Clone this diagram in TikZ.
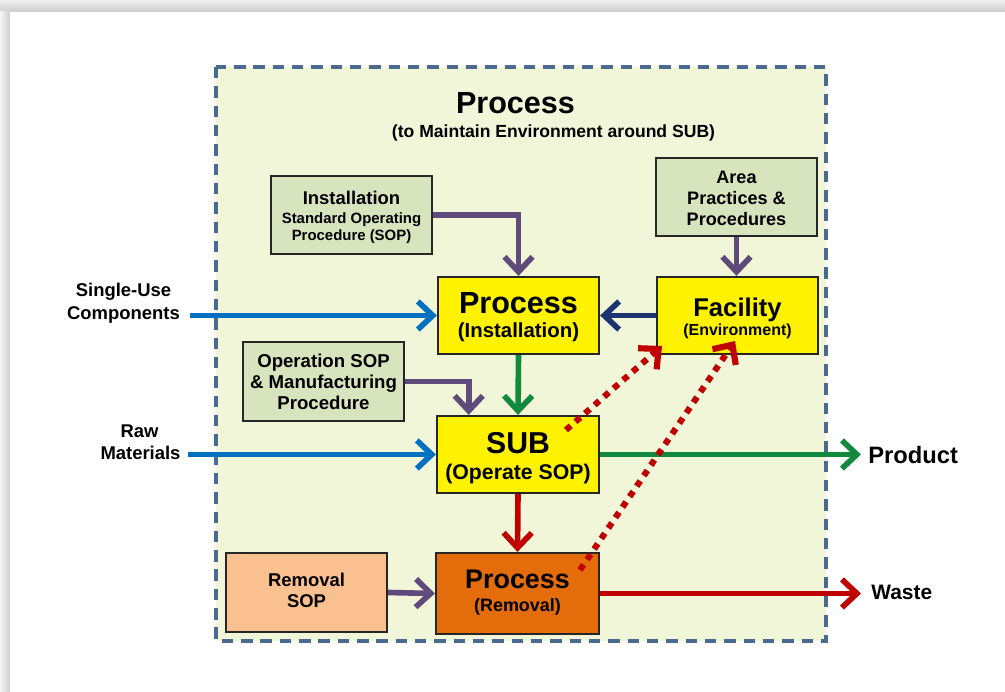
\documentclass[tikz,border=0pt]{standalone}
\usepackage{fontspec}
\setmainfont{Liberation Sans}
\usetikzlibrary{arrows.meta,calc}

\definecolor{panel}{HTML}{F2F6D8}
\definecolor{frameblue}{HTML}{4A6A90}
\definecolor{sopgreen}{HTML}{D7E4BD}
\definecolor{peach}{HTML}{FAC090}
\definecolor{orangebox}{HTML}{E46C0A}
\definecolor{arrpurple}{HTML}{604A7B}
\definecolor{arrblue}{HTML}{0070C0}
\definecolor{arrnavy}{HTML}{1B3470}
\definecolor{arrgreen}{HTML}{118A3E}
\definecolor{arrred}{HTML}{C00000}
\definecolor{boxline}{HTML}{262626}

\newcommand{\setfs}[1]{\fontsize{#1pt}{#1pt}\selectfont\bfseries}

\tikzset{
  box/.style={draw=boxline, line width=1.3pt, inner sep=0pt, minimum width=3.22cm},
  sopbox/.style={box, fill=sopgreen, minimum height=1.56cm},
  mainbox/.style={box, fill=yellow, minimum height=1.54cm},
  txt/.style={anchor=base, inner sep=0pt},
  flow/.style={line width=3.2pt, -{Straight Barb[length=8.5pt,width=16pt]}},
  dotflow/.style={flow, draw=arrred, line width=3.5pt, dash pattern=on 3.6pt off 3.6pt},
}

\begin{document}
\begin{tikzpicture}[x=0.02cm, y=-0.02cm]
  \useasboundingbox (0,0) rectangle (1005,692);
  \fill[white] (0,0) rectangle (1005,692);

  % soft page shadow along the top and left edges
  \shade[top color=gray!12, bottom color=gray!40] (0,0) rectangle (1005,12);
  \shade[left color=gray!8, right color=gray!38] (0,12) rectangle (10,692);
  \fill[white] (10,12) rectangle (1005,692);

  % dashed process frame
  \draw[fill=panel, draw=frameblue, line width=2pt, dash pattern=on 6.5pt off 4.5pt]
    (216,67) rectangle (826,641);

  \node[txt] (title) at (515.5,114) {\setfs{17.4}Process};
  \node[txt] (subtitle) at (553.5,138) {\setfs{10}(to Maintain Environment around SUB)};

  % boxes
  \node[sopbox] (isop) at (351.5,215) {};
  \node[sopbox] (area) at (736.5,197) {};
  \node[sopbox, minimum height=1.58cm] (osop) at (323.5,381.5) {};
  \node[box, fill=peach, minimum height=1.58cm] (rsop) at (306.5,592.5) {};
  \node[mainbox] (proc) at (518.5,315.5) {};
  \node[mainbox] (fac) at (737.5,315.5) {};
  \node[mainbox, minimum width=3.24cm] (sub) at (518,454.5) {};
  \node[box, fill=orangebox, minimum width=3.26cm, minimum height=1.62cm] (rem) at (517.5,593.5) {};

  % box texts
  \node[txt] at (351.5,205) {\setfs{10.5}Installation};
  \node[txt] at (351.5,223.3) {\setfs{8.5}Standard Operating};
  \node[txt] at (351.5,240.5) {\setfs{8.5}Procedure (SOP)};

  \node[txt] at (736.5,183.3) {\setfs{10.3}Area};
  \node[txt] at (736.5,204.3) {\setfs{10.3}Practices \&};
  \node[txt] at (736.5,225.3) {\setfs{10.3}Procedures};

  \node[txt] at (323.5,368) {\setfs{10.6}Operation SOP};
  \node[txt] at (323.5,389) {\setfs{10.6}\& Manufacturing};
  \node[txt] at (323.5,410) {\setfs{10.6}Procedure};

  \node[txt] at (306.5,586.7) {\setfs{10.5}Removal};
  \node[txt] at (306.5,608) {\setfs{10.5}SOP};

  \node[txt] at (518.5,313.3) {\setfs{17.4}Process};
  \node[txt] at (518.5,338) {\setfs{11.6}(Installation)};

  \node[txt] at (737.5,316.7) {\setfs{14.6}Facility};
  \node[txt] at (737.5,336) {\setfs{9.1}(Environment)};

  \node[txt] at (518,453.5) {\setfs{17.2}SUB};
  \node[txt] at (518,480) {\setfs{12.1}(Operate SOP)};

  \node[txt] at (517.5,589) {\setfs{15.3}Process};
  \node[txt] at (517.5,612) {\setfs{10.2}(Removal)};

  % outside labels
  \node[txt] (su1) at (123.5,296.7) {\setfs{10.5}Single-Use};
  \node[txt] (su2) at (123.5,319.5) {\setfs{10.5}Components};
  \node[txt] (rw1) at (139.5,438) {\setfs{10.5}Raw};
  \node[txt] (rw2) at (140.5,459.5) {\setfs{10.5}Materials};
  \node[txt, anchor=base west] (product) at (868,464) {\setfs{13.5}Product};
  \node[txt, anchor=base west] (waste) at (871,600) {\setfs{11.9}Waste};

  % free ends of connectors
  \coordinate (suin) at (190,315.5);
  \coordinate (rwin) at (188,454.5);
  \coordinate (prodout) at (861,454.5);
  \coordinate (wasteout) at (861,593.5);
  \coordinate (d1s) at (566,430);
  \coordinate (d1e) at (662,346);
  \coordinate (d2s) at (580,570);
  \coordinate (d2e) at (735,341);

  % connectors
  \draw[flow, arrpurple] (isop.east) -| (proc.north);
  \draw[flow, arrpurple] (area.south) -- (fac.north -| area.south);
  \draw[flow, arrpurple] (osop.east) -| ($(sub.north west)!0.2!(sub.north east)$);
  \draw[flow, arrpurple] (rsop.east) -- (rem.west);
  \draw[flow, arrnavy] (fac.west) -- (proc.east);
  \draw[flow, arrblue] (suin) -- (proc.west);
  \draw[flow, arrblue] (rwin) -- (sub.west);
  \draw[flow, arrgreen] (proc.south) -- (sub.north);
  \draw[flow, arrgreen] (sub.east) -- (prodout);
  \draw[flow, arrred] (sub.south) -- (rem.north);
  \draw[flow, arrred] (rem.east) -- (wasteout);
  \draw[dotflow] (d1s) -- (d1e);
  \draw[dotflow] (d2s) -- (d2e);
\end{tikzpicture}
\end{document}
